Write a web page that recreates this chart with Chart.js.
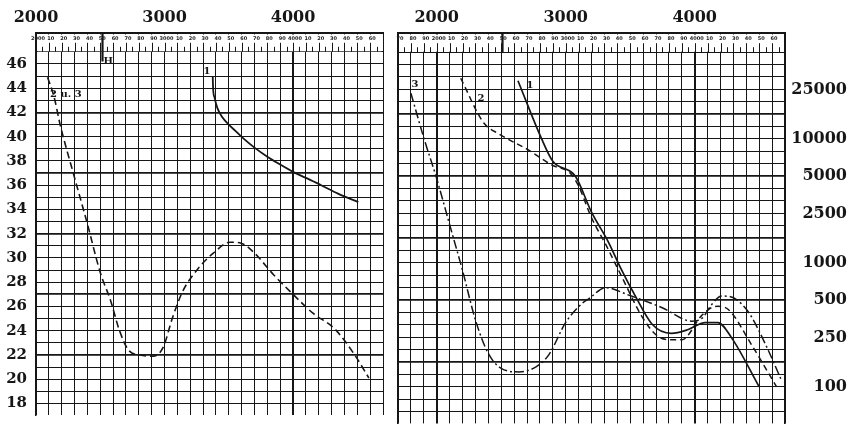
<!DOCTYPE html>
<html>
<head>
<meta charset="utf-8">
<script src="https://cdn.jsdelivr.net/npm/chart.js@4.4.1/dist/chart.umd.min.js"></script>
<style>
html, body { margin: 0; padding: 0; background: #fff; }
#wrap { position: relative; width: 851px; height: 433px; overflow: hidden; }
#left { position: absolute; left: 0; top: 0; }
#right { position: absolute; left: 390px; top: 0; }
</style>
</head>
<body>
<div id="wrap">
  <canvas id="left" width="390" height="433"></canvas>
  <canvas id="right" width="461" height="433"></canvas>
</div>
<script>
// ---- data, left panel (linear scale 18..46) ----
const leftLambda1 = [3375, 3378, 3390, 3410, 3450, 3500, 3560, 3620, 3700, 3800, 3900, 4000, 4100, 4219, 4350, 4508];
const leftCurve1  = [45.0, 44.0, 43.2, 42.4, 41.6, 41.0, 40.4, 39.8, 39.1, 38.35, 37.7, 37.1, 36.6, 36.0, 35.3, 34.6];

const leftLambda23 = [2090, 2140, 2190, 2290, 2400, 2500, 2580, 2650, 2720, 2809, 2911, 2988, 3066, 3144, 3260, 3380, 3510, 3600, 3700, 3850, 4000, 4160, 4320, 4480, 4590];
const leftCurve23  = [44.9, 43.3, 40.9, 37.0, 32.8, 28.8, 26.5, 24.0, 22.4, 22.0, 21.9, 22.6, 25.2, 27.3, 29.1, 30.4, 31.3, 31.2, 30.4, 28.6, 27.0, 25.4, 24.2, 22.0, 20.1];

// ---- data, right panel (log scale) ----
const rightLambda1 = [2630, 2810, 2900, 3075, 3200, 3330, 3430, 3540, 3670, 3820, 3950, 4080, 4180, 4290, 4500];
const rightCurve1  = [29500, 10200, 6600, 5000, 2570, 1480, 890, 540, 320, 270, 290, 330, 330, 245, 100];

const rightLambda2 = [2186, 2364, 2481, 2713, 2891, 3039, 3100, 3202, 3310, 3434, 3589, 3700, 3800, 3900, 4050, 4120, 4180, 4265, 4440, 4635];
const rightCurve2  = [30900, 13500, 11000, 8130, 6170, 5250, 4170, 2290, 1410, 776, 372, 263, 240, 240, 372, 430, 447, 417, 219, 100];

const rightLambda3 = [1800, 1900, 2000, 2100, 2200, 2300, 2400, 2500, 2640, 2770, 2870, 3000, 3124, 3178, 3310, 3488, 3744, 3977, 4060, 4130, 4210, 4270, 4330, 4419, 4550, 4674];
const rightCurve3  = [23400, 10200, 4790, 2040, 871, 347, 186, 141, 132, 145, 182, 331, 468, 513, 631, 550, 437, 339, 360, 460, 540, 535, 500, 398, 219, 112];

// ---- tick labels ----
const topLabels = [2000, 3000, 4000];
const leftTickLabels = [18, 20, 22, 24, 26, 28, 30, 32, 34, 36, 38, 40, 42, 44, 46];
const rightTickLabels = [100, 250, 500, 1000, 2500, 5000, 10000, 25000];
const heavyRows = [22, 27, 32, 37, 42];
const heavyCols = [2000, 4000];

const INK = '#161616';
const serif = 'DejaVu Serif';

const pts = (xs, ys) => xs.map((x, i) => ({ x: x, y: ys[i] }));

function lineSet(data, dash, width, yAxisID) {
  return {
    data: data, yAxisID: yAxisID,
    borderColor: INK, borderWidth: width, borderDash: dash,
    pointRadius: 0, fill: false, cubicInterpolationMode: 'monotone'
  };
}

function xAxis(min, max) {
  return {
    type: 'linear', position: 'top', min: min, max: max,
    ticks: {
      stepSize: 100, autoSkip: false, maxRotation: 0, padding: 6,
      callback: v => topLabels.includes(v) ? String(v) : '',
      font: { family: serif, weight: 'bold', size: 16 }, color: INK
    },
    grid: {
      drawTicks: false, color: INK,
      lineWidth: c => (c.tick && heavyCols.includes(c.tick.value)) ? 2 : 1
    },
    border: { color: INK, width: 2 },
    afterFit: s => { s.height = 33; }
  };
}

function gridY(showLabels, width) {
  return {
    type: 'linear', position: 'left', min: 17.05, max: 48.55,
    ticks: {
      display: showLabels, stepSize: 1, autoSkip: false, includeBounds: false, padding: 9,
      callback: v => leftTickLabels.includes(Math.round(v)) ? String(Math.round(v)) : '',
      font: { family: serif, weight: 'bold', size: 15 }, color: INK
    },
    grid: {
      drawTicks: false,
      color: c => (c.tick && c.tick.value > 47.5) ? 'rgba(0,0,0,0)' : INK,
      lineWidth: c => (c.tick && heavyRows.includes(Math.round(c.tick.value))) ? 1.8 : 1
    },
    border: { color: INK, width: 1.5 },
    afterFit: s => { s.width = width; }
  };
}

// strip of fine ticks along the top, marker H and curve numbers
function decor(gridAxis, labels, hLong) {
  return {
    id: 'decor',
    beforeDatasetsDraw(chart) {
      const { ctx, chartArea: a } = chart;
      const xs = chart.scales.x, ys = chart.scales[gridAxis];
      const yb = ys.getPixelForValue(47);
      ctx.save();
      ctx.fillStyle = '#fff';
      ctx.fillRect(a.left + 1.5, a.top + 1.5, a.right - a.left - 3, yb - a.top - 2);
      ctx.strokeStyle = INK;
      ctx.lineWidth = 1;
      ctx.beginPath();
      for (let v = xs.min; v <= xs.max; v += 100) {
        const px = Math.round(xs.getPixelForValue(v)) + 0.5;
        ctx.moveTo(px, yb); ctx.lineTo(px, yb - 9);
        if (v + 50 < xs.max) {
          const pm = Math.round(xs.getPixelForValue(v + 50)) + 0.5;
          ctx.moveTo(pm, yb); ctx.lineTo(pm, yb - 5);
        }
      }
      ctx.stroke();
      ctx.fillStyle = '#222';
      ctx.font = 'bold 5px "DejaVu Sans"';
      ctx.textAlign = 'center';
      ctx.textBaseline = 'middle';
      for (let v = xs.min; v < xs.max; v += 100) {
        const lab = v % 1000 === 0 ? String(v) : String((v % 1000) / 10);
        ctx.fillText(lab, xs.getPixelForValue(v) + 2, a.top + 6);
      }
      // H marker
      const hx = Math.round(xs.getPixelForValue(2510)) + 0.5;
      ctx.lineWidth = 2.2;
      ctx.beginPath();
      ctx.moveTo(hx, a.top);
      ctx.lineTo(hx, hLong ? ys.getPixelForValue(46.2) : yb);
      ctx.stroke();
      ctx.restore();
    },
    afterDatasetsDraw(chart) {
      const { ctx } = chart;
      ctx.save();
      ctx.fillStyle = INK;
      ctx.textBaseline = 'middle';
      labels.forEach(l => {
        const ys = chart.scales[l.axis];
        ctx.font = 'bold ' + l.size + 'px "' + serif + '"';
        ctx.textAlign = l.align;
        ctx.fillText(l.text, chart.scales.x.getPixelForValue(l.x), ys.getPixelForValue(l.y));
      });
      ctx.restore();
    }
  };
}

const common = {
  responsive: false, animation: false,
  layout: { padding: { left: 0, right: 7, top: 0, bottom: 0 } },
  plugins: { legend: { display: false }, tooltip: { enabled: false } }
};

new Chart(document.getElementById('left'), {
  type: 'line',
  data: {
    datasets: [
      lineSet(pts(leftLambda1, leftCurve1), [], 1.8, 'y'),
      lineSet(pts(leftLambda23, leftCurve23), [7, 4], 1.6, 'y')
    ]
  },
  options: Object.assign({}, common, {
    scales: { x: xAxis(2000, 4700), y: gridY(true, 36) }
  }),
  plugins: [decor('y', [
    { text: '1', x: 3331, y: 45.4, axis: 'y', align: 'center', size: 10 },
    { text: '2 u. 3', x: 2109, y: 43.5, axis: 'y', align: 'left', size: 10 },
    { text: 'H', x: 2525, y: 46.2, axis: 'y', align: 'left', size: 10 }
  ], true)]
});

new Chart(document.getElementById('right'), {
  type: 'line',
  data: {
    datasets: [
      lineSet(pts(rightLambda1, rightCurve1), [], 1.7, 'y'),
      lineSet(pts(rightLambda2, rightCurve2), [6, 4], 1.5, 'y'),
      lineSet(pts(rightLambda3, rightCurve3), [9, 3, 2, 3], 1.5, 'y')
    ]
  },
  options: Object.assign({}, common, {
    layout: { padding: { left: 0, right: 4, top: 0, bottom: 0 } },
    scales: {
      x: xAxis(1700, 4700),
      yg: gridY(false, 8),
      y: {
        type: 'logarithmic', position: 'right',
        min: Math.pow(10, 1.705), max: Math.pow(10, 4.855),
        afterBuildTicks: s => { s.ticks = rightTickLabels.map(v => ({ value: v })); },
        ticks: {
          autoSkip: false, crossAlign: 'far', padding: 0,
          callback: v => String(v),
          font: { family: serif, weight: 'bold', size: 16 }, color: INK
        },
        grid: { display: false, drawTicks: false },
        border: { color: INK, width: 1.5 },
        afterFit: s => { s.width = 62; }
      }
    }
  }),
  plugins: [decor('yg', [
    { text: '3', x: 1832, y: 27500, axis: 'y', align: 'center', size: 10 },
    { text: '2', x: 2343, y: 21400, axis: 'y', align: 'center', size: 10 },
    { text: '1', x: 2723, y: 26900, axis: 'y', align: 'center', size: 10 }
  ], false)]
});
</script>
</body>
</html>
